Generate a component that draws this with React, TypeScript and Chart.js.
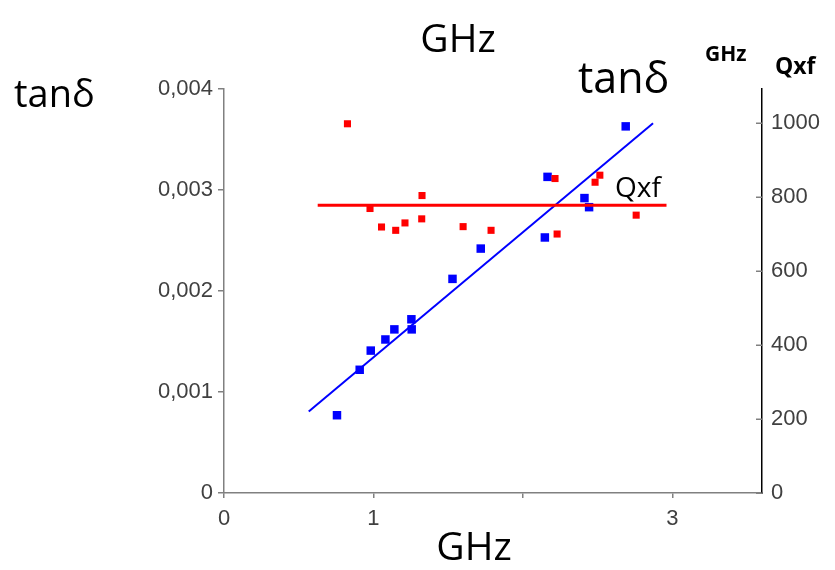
import React, { useEffect, useRef } from 'react';
import { Chart, registerables } from 'chart.js';

Chart.register(...registerables);

// Blue series: tanδ vs frequency (GHz), left axis
const blueFreq = [0.756, 0.908, 0.982, 1.08, 1.14, 1.254, 1.256, 1.529, 1.718, 2.147, 2.165, 2.412, 2.443, 2.688];
const blueTan = [0.00077, 0.00122, 0.00141, 0.00152, 0.00162, 0.00172, 0.00162, 0.00212, 0.00242, 0.00253, 0.00313, 0.00292, 0.00283, 0.00363];

// Red series: Qxf vs frequency (GHz), right axis
const redFreq = [0.826, 0.977, 1.054, 1.149, 1.211, 1.325, 1.323, 1.6, 1.787, 2.215, 2.229, 2.483, 2.515, 2.758];
const redQxf = [998, 769, 719, 710, 730, 804, 741, 720, 710, 850, 700, 840, 859, 751];

// Fit lines
const tanFitFreq = [0.567, 2.871];
const tanFitValues = [0.000807, 0.00366];
const qxfFitFreq = [0.627, 2.961];
const qxfFitValues = [778, 778];

// Ticks
const xTickValues = [0, 1, 2, 3];
const xTickLabels = ['0', '1', '', '3'];
const leftTickValues = [0, 0.001, 0.002, 0.003, 0.004];
const leftTickLabels = ['0', '0,001', '0,002', '0,003', '0,004'];
const rightTickValues = [0, 200, 400, 600, 800, 1000];
const rightTickLabels = ['0', '200', '400', '600', '800', '1000'];

const tickFont = { family: 'Liberation Sans, Arial, sans-serif', size: 22 };

// Right axis tick marks point inward (into the plot)
const innerTicksPlugin = {
  id: 'innerTicks',
  afterDraw(chart: any) {
    const s = chart.scales.y1;
    if (!s) return;
    const ctx = chart.ctx;
    ctx.save();
    ctx.strokeStyle = '#808080';
    ctx.lineWidth = 1.5;
    s.ticks.forEach((t: any) => {
      const y = Math.round(s.getPixelForValue(t.value)) + 0.25;
      ctx.beginPath();
      ctx.moveTo(s.left - 6, y);
      ctx.lineTo(s.left, y);
      ctx.stroke();
    });
    ctx.restore();
  },
};

export default function App() {
  const canvasRef = useRef<HTMLCanvasElement | null>(null);

  useEffect(() => {
    if (!canvasRef.current) return;
    const pts = (xs: number[], ys: number[]) => xs.map((x, i) => ({ x, y: ys[i] }));
    const chart = new Chart(canvasRef.current, {
      type: 'scatter',
      data: {
        datasets: [
          {
            data: pts(qxfFitFreq, qxfFitValues),
            yAxisID: 'y1',
            showLine: true,
            borderColor: '#ff0000',
            borderWidth: 3,
            pointRadius: 0,
          },
          {
            data: pts(tanFitFreq, tanFitValues),
            yAxisID: 'y',
            showLine: true,
            borderColor: '#0000ff',
            borderWidth: 2,
            pointRadius: 0,
          },
          {
            data: pts(redFreq, redQxf),
            yAxisID: 'y1',
            showLine: false,
            pointStyle: 'rect',
            pointRadius: 5,
            pointBorderWidth: 0,
            backgroundColor: '#ff0000',
            borderColor: '#ff0000',
          },
          {
            data: pts(blueFreq, blueTan),
            yAxisID: 'y',
            showLine: false,
            pointStyle: 'rect',
            pointRadius: 6,
            pointBorderWidth: 0,
            backgroundColor: '#0000ff',
            borderColor: '#0000ff',
          },
        ],
      },
      options: {
        responsive: false,
        animation: false,
        layout: { padding: { top: 89, left: 0, right: 0, bottom: 0 } },
        plugins: { legend: { display: false }, tooltip: { enabled: false } },
        scales: {
          x: {
            type: 'linear',
            position: 'bottom',
            min: 0,
            max: 3.6,
            border: { color: '#808080', width: 1.5 },
            grid: { drawOnChartArea: false, drawTicks: true, tickLength: 5, color: '#808080', lineWidth: 1.5 },
            ticks: {
              font: tickFont,
              color: '#404040',
              padding: 8,
              maxRotation: 0,
              autoSkip: false,
              callback: (v: any) => xTickLabels[xTickValues.indexOf(Number(v))] ?? '',
            },
            afterBuildTicks: (s: any) => {
              s.ticks = xTickValues.map((value) => ({ value }));
            },
            afterFit: (s: any) => {
              s.height = 77;
            },
          },
          y: {
            type: 'linear',
            position: 'left',
            min: 0,
            max: 0.004,
            border: { color: '#808080', width: 1.5 },
            grid: { drawOnChartArea: false, drawTicks: true, tickLength: 6, color: '#808080', lineWidth: 1.5 },
            ticks: {
              font: tickFont,
              color: '#404040',
              padding: 5,
              callback: (v: any) => {
                const i = leftTickValues.findIndex((t) => Math.abs(t - Number(v)) < 1e-9);
                return i >= 0 ? leftTickLabels[i] : '';
              },
            },
            afterBuildTicks: (s: any) => {
              s.ticks = leftTickValues.map((value) => ({ value }));
            },
            afterFit: (s: any) => {
              s.width = 224;
            },
          },
          y1: {
            type: 'linear',
            position: 'right',
            min: 0,
            max: 1092,
            border: { color: '#000000', width: 1.5 },
            grid: { drawOnChartArea: false, drawTicks: false },
            ticks: {
              font: tickFont,
              color: '#404040',
              padding: 9,
              callback: (v: any) => rightTickLabels[rightTickValues.indexOf(Number(v))] ?? '',
            },
            afterBuildTicks: (s: any) => {
              s.ticks = rightTickValues.map((value) => ({ value }));
            },
            afterFit: (s: any) => {
              s.width = 73;
            },
          },
        },
      } as any,
      plugins: [innerTicksPlugin],
    });
    return () => chart.destroy();
  }, []);

  const txt = (extra: React.CSSProperties): React.CSSProperties => ({
    position: 'absolute',
    fontFamily: '"Open Sans", sans-serif',
    lineHeight: 1,
    color: '#000',
    whiteSpace: 'nowrap',
    ...extra,
  });

  return (
    <div style={{ position: 'absolute', left: 0, top: 0, width: 835, height: 570, background: '#fff', overflow: 'hidden' }}>
      <canvas ref={canvasRef} width={835} height={570} style={{ position: 'absolute', left: 0, top: 0 }} />
      <div style={txt({ left: 358, width: 200, textAlign: 'center', top: 17, fontSize: 39 })}>GHz</div>
      <div style={txt({ left: 14, top: 73, fontSize: 38 })}>tanδ</div>
      <div style={txt({ left: 578, top: 55, fontSize: 43 })}>tanδ</div>
      <div style={txt({ left: 705, top: 43, fontSize: 21, fontWeight: 700 })}>GHz</div>
      <div style={txt({ left: 775, top: 54, fontSize: 23, fontWeight: 700 })}>Qxf</div>
      <div style={txt({ left: 615, top: 172, fontSize: 28 })}>Qxf</div>
      <div style={txt({ left: 374, width: 200, textAlign: 'center', top: 525, fontSize: 39 })}>GHz</div>
    </div>
  );
}
